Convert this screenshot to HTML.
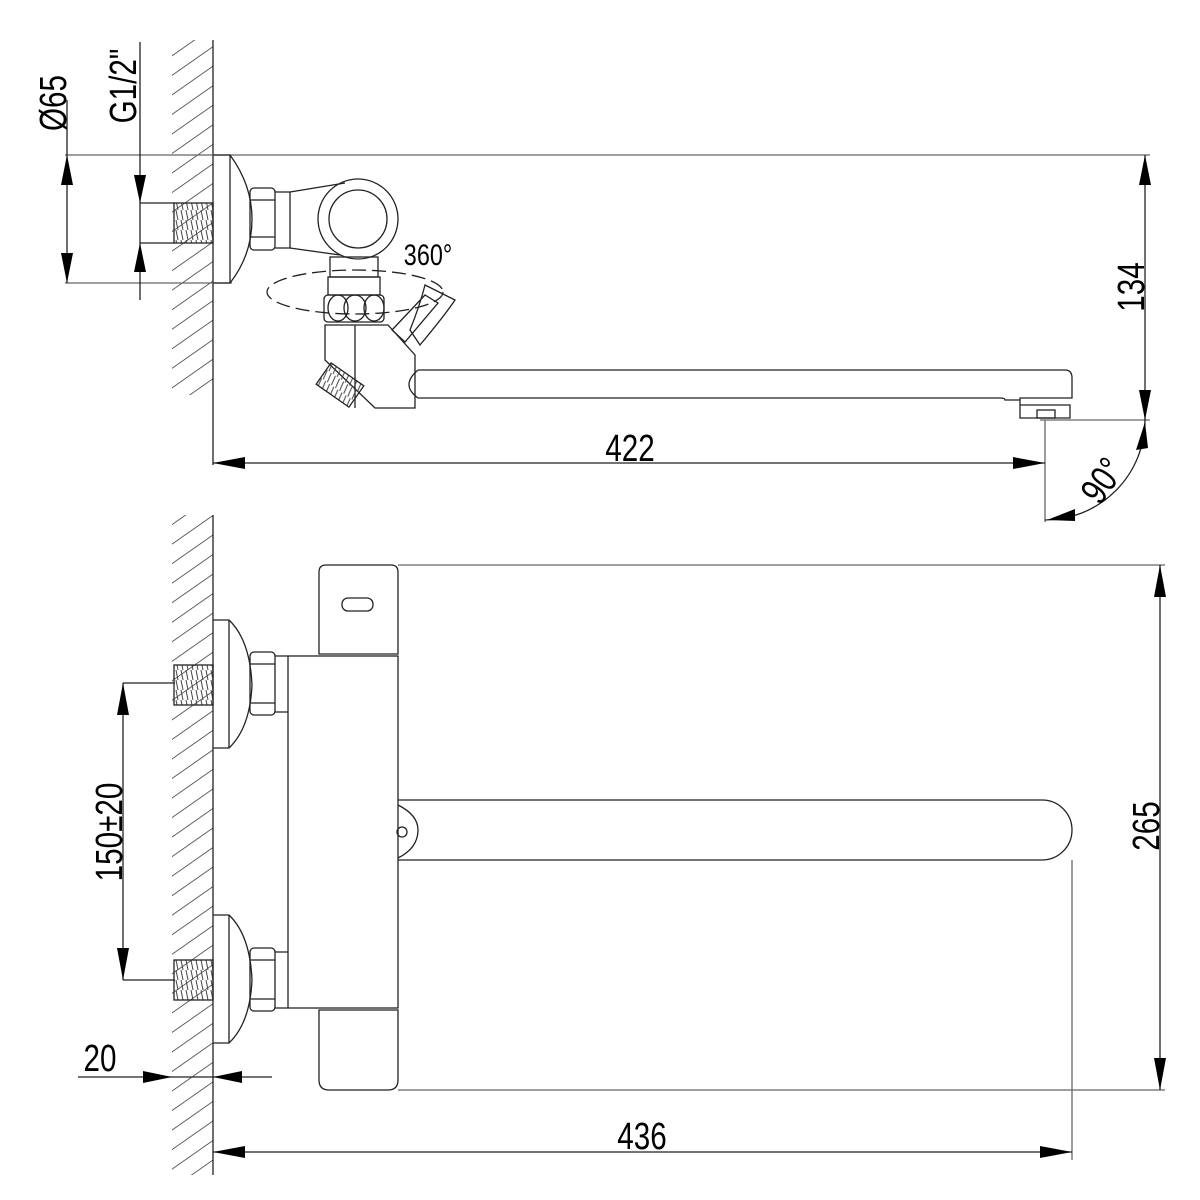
<!DOCTYPE html>
<html><head><meta charset="utf-8"><style>html,body{margin:0;padding:0;background:#fff}svg{display:block}</style></head>
<body>
<svg width="1200" height="1200" viewBox="0 0 1200 1200" xmlns="http://www.w3.org/2000/svg" font-family="Liberation Sans, sans-serif">
<defs>
<pattern id="h" patternUnits="userSpaceOnUse" width="16" height="16" patternTransform="rotate(55)">
<line x1="0" y1="0" x2="0" y2="16" stroke="#222" stroke-width="1.4"/>
</pattern>
<pattern id="t" patternUnits="userSpaceOnUse" width="5" height="10">
<line x1="1" y1="0" x2="3" y2="10" stroke="#444" stroke-width="1"/>
</pattern>
</defs>
<g fill="none" stroke="#222" stroke-width="1.3">
<rect x="172" y="40" width="41" height="355" fill="url(#h)" stroke="none"/>
<rect x="172" y="515" width="41" height="660" fill="url(#h)" stroke="none"/>
<line x1="213" y1="40" x2="213" y2="465"/>
<line x1="213" y1="515" x2="213" y2="1175"/>

<line x1="65" y1="155" x2="1150" y2="155" stroke="#666"/>
<line x1="65" y1="283" x2="232" y2="283" stroke="#666"/>
<line x1="67" y1="100" x2="67" y2="283"/>
<line x1="140" y1="42" x2="140" y2="300"/>
<line x1="140" y1="203" x2="175" y2="203"/>
<line x1="140" y1="243" x2="175" y2="243"/>
<rect x="174" y="203" width="39" height="40" fill="url(#t)"/>
<path d="M213 155 H230 Q252 185 252 219 Q252 255 230 283 H213"/>
<line x1="230" y1="155" x2="230" y2="283"/>
<rect x="250" y="188" width="25" height="62" rx="4"/>
<line x1="250" y1="200" x2="275" y2="200"/><line x1="250" y1="237" x2="275" y2="237"/>
<path d="M275 192 H290 V248 H275"/>
<path d="M290 192 L345 183 M290 248 L340 255"/>
<circle cx="358" cy="219" r="40"/><circle cx="358" cy="219" r="29"/>
<rect x="330" y="257" width="48" height="20"/>
<rect x="328" y="277" width="52" height="18"/>
<rect x="324" y="295" width="60" height="27" rx="4"/>
<ellipse cx="338" cy="308" rx="10" ry="13"/><ellipse cx="355" cy="308" rx="11" ry="13"/><ellipse cx="374" cy="308" rx="10" ry="13"/>
<ellipse cx="355" cy="292" rx="88" ry="22" stroke-dasharray="14 6"/>
<path d="M325 325 H388 L415 355 V408 H375 L325 360 Z"/>
<line x1="355" y1="325" x2="355" y2="408"/>
<path d="M392 330 L425 295 L438 303 L405 342 Z"/>
<path d="M425 285 L455 300 Q445 315 420 345 L410 330 Q420 305 425 285 Z"/>
<rect x="320" y="372" width="40" height="26" fill="url(#t)" transform="rotate(35 340 385)"/>
<path d="M418 370 H1065 Q1072 370 1072 378 V398 H1020 V405 H1070 V418 H1020 V405 M418 398 H1000 Q1005 398 1005 400 H1020 M418 370 Q400 385 418 398"/>
<rect x="1037" y="410" width="18" height="8"/>
<line x1="1040" y1="420" x2="1150" y2="420" stroke="#666"/>
<line x1="1045" y1="420" x2="1045" y2="522" stroke="#666"/>
<line x1="213" y1="463" x2="1045" y2="463"/>
<line x1="1145" y1="155" x2="1145" y2="420"/>
<path d="M1045 520 A100 100 0 0 0 1145 420"/>

<line x1="398" y1="565" x2="1165" y2="565" stroke="#666"/>
<line x1="398" y1="1090" x2="1165" y2="1090" stroke="#666"/>
<line x1="1160" y1="565" x2="1160" y2="1090"/>
<path d="M319 654 V572 Q319 565 326 565 H391 Q398 565 398 572 V654 Z"/>
<rect x="342" y="598" width="31" height="13" rx="6"/>
<rect x="288" y="656" width="110" height="352"/>
<path d="M319 1010 H398 V1080 Q398 1090 388 1090 H329 Q319 1090 319 1080 Z"/>
<path d="M213 620 H229 Q250 640 252 685 Q250 728 229 748 H213"/><line x1="229" y1="620" x2="229" y2="748"/>
<rect x="250" y="652" width="25" height="63" rx="4"/><line x1="250" y1="664" x2="275" y2="664"/><line x1="250" y1="703" x2="275" y2="703"/>
<path d="M275 656 H288 M275 712 H288"/>
<path d="M213 915 H229 Q250 935 252 980 Q250 1023 229 1043 H213"/><line x1="229" y1="915" x2="229" y2="1043"/>
<rect x="250" y="948" width="25" height="63" rx="4"/><line x1="250" y1="960" x2="275" y2="960"/><line x1="250" y1="999" x2="275" y2="999"/>
<path d="M275 952 H288 M275 1008 H288"/>
<rect x="174" y="665" width="39" height="40" fill="url(#t)"/>
<rect x="174" y="960" width="39" height="40" fill="url(#t)"/>
<path d="M398 800 H1042 A30 30 0 0 1 1042 860 H398"/>
<path d="M398 805 Q418 815 418 830 Q418 848 398 858"/>
<circle cx="402" cy="832" r="5"/>
<line x1="1072" y1="860" x2="1072" y2="1160" stroke="#666"/>
<line x1="213" y1="1152" x2="1072" y2="1152"/>
<line x1="123" y1="683" x2="123" y2="980"/>
<line x1="123" y1="683" x2="175" y2="683"/>
<line x1="123" y1="980" x2="175" y2="980"/>
<line x1="78" y1="1077" x2="272" y2="1077"/>
</g>
<g fill="#000">
<polygon points="67,155 61,185 73,185"/><polygon points="67,283 61,253 73,253"/>
<polygon points="140,203 134,175 146,175"/><polygon points="140,243 134,272 146,272"/>
<polygon points="213,463 245,457 245,469"/><polygon points="1045,463 1013,457 1013,469"/>
<polygon points="1145,155 1139,185 1151,185"/><polygon points="1145,420 1139,390 1151,390"/>
<polygon points="1145,422 1136,450 1148,448"/><polygon points="1047,520 1075,509 1075,521"/>
<polygon points="1160,565 1154,597 1166,597"/><polygon points="1160,1090 1154,1058 1166,1058"/>
<polygon points="213,1152 245,1146 245,1158"/><polygon points="1072,1152 1040,1146 1040,1158"/>
<polygon points="123,683 117,715 129,715"/><polygon points="123,980 117,948 129,948"/>
<polygon points="172,1077 143,1071 143,1083"/><polygon points="213,1077 242,1071 242,1083"/>
</g>
<g fill="#000" font-size="38">
<text transform="translate(630 461) scale(0.78 1)" text-anchor="middle">422</text>
<text transform="translate(642 1149) scale(0.78 1)" text-anchor="middle">436</text>
<text transform="translate(100 1071) scale(0.78 1)" text-anchor="middle">20</text>
<text transform="translate(428 265) scale(0.78 1)" text-anchor="middle" font-size="30">360°</text>
<text transform="translate(1144 287) rotate(-90) scale(0.78 1)" text-anchor="middle">134</text>
<text transform="translate(1159 826) rotate(-90) scale(0.78 1)" text-anchor="middle">265</text>
<text transform="translate(122 832) rotate(-90) scale(0.78 1)" text-anchor="middle">150±20</text>
<text transform="translate(66 103) rotate(-90) scale(0.78 1)" text-anchor="middle">Ø65</text>
<text transform="translate(136 86) rotate(-90) scale(0.78 1)" text-anchor="middle">G1/2"</text>
<text transform="translate(1113 488) rotate(-55) scale(0.78 1)" text-anchor="middle">90°</text>
</g>
</svg>
</body></html>
